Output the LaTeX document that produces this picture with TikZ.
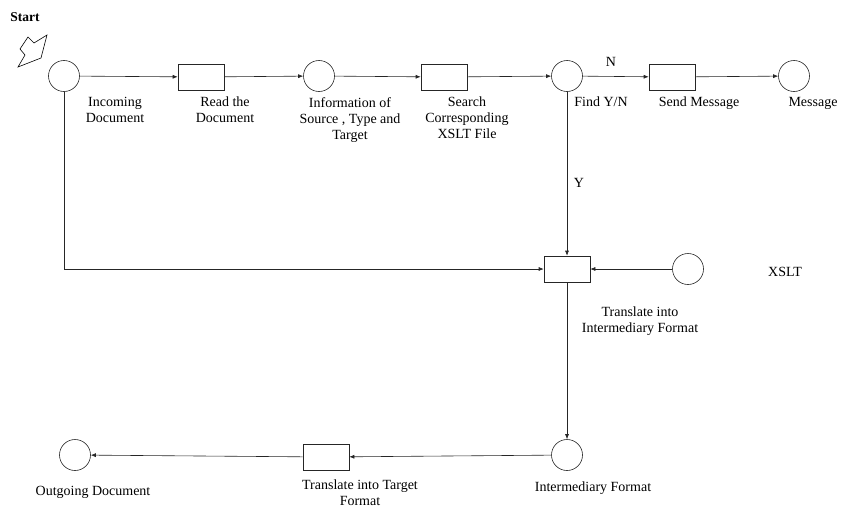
\documentclass[tikz,border=0pt]{standalone}
\usepackage{fontspec}
\setmainfont{Liberation Serif}
\usetikzlibrary{arrows.meta,positioning,calc}
\tikzset{
  >={Latex[length=5pt,width=4pt]},
  state/.style={circle,draw=black!85,line width=0.6pt,minimum size=31pt,inner sep=0pt},
  task/.style={rectangle,draw=black!85,line width=0.6pt,minimum width=46pt,minimum height=26pt,inner sep=0pt},
  lbl/.style={font=\fontsize{14}{16}\selectfont,align=center,inner sep=0pt},
  flow/.style={->,line width=0.6pt,draw=black!85},
}
\begin{document}
\begin{tikzpicture}[x=1pt,y=-1pt]
  \useasboundingbox (0,0) rectangle (848,514);
  % start marker
  \node[lbl,font=\fontsize{13.5}{16}\selectfont\bfseries] (start) at (25,17) {Start};
  \draw[line width=0.6pt] (20,49) -- (28,37) -- (34,43) -- (47,35) -- (41,58) -- (18,67) -- (25,55) -- cycle;
  % top row
  \node[state] (inc) at (64,76) {};
  \node[task] (read) at (201,77) {};
  \node[state] (info) at (319,76) {};
  \node[task] (search) at (444,77) {};
  \node[state] (find) at (567,76) {};
  \node[task] (send) at (672,77) {};
  \node[state] (msg) at (794,76) {};
  % middle row
  \node[task] (trans) at (567,269) {};
  \node[state] (xslt) at (688,269) {};
  % bottom row
  \node[state] (inter) at (567,455) {};
  \node[task] (target) at (326,457) {};
  \node[state] (out) at (75,455) {};
  % labels
  \node[lbl,anchor=north] (incl) at (115,97) {Incoming\\Document};
  \node[lbl,anchor=north] (readl) at (225,97) {Read the\\Document};
  \node[lbl,anchor=north] (infol) at (350,97) {Information of\\Source , Type and\\Target};
  \node[lbl,anchor=north] (searchl) at (467,97) {Search\\Corresponding\\XSLT File};
  \node[lbl,anchor=north] (findl) at (601,97) {Find Y/N};
  \node[lbl,anchor=north] (sendl) at (699,97) {Send Message};
  \node[lbl,anchor=north] (msgl) at (813,97) {Message};
  \node[lbl] (nl) at (611,62) {N};
  \node[lbl] (yl) at (579,183) {Y};
  \node[lbl] (xsltl) at (785,272) {XSLT};
  \node[lbl,anchor=north] (transl) at (640,307) {Translate into\\Intermediary Format};
  \node[lbl,anchor=north] (interl) at (593,482) {Intermediary Format};
  \node[lbl,anchor=north] (targetl) at (360,480) {Translate into Target\\Format};
  \node[lbl,anchor=north] (outl) at (93,486) {Outgoing Document};
  % connectors
  \draw[flow] (inc) -- (read);
  \draw[flow] (read) -- (info);
  \draw[flow] (info) -- (search);
  \draw[flow] (search) -- (find);
  \draw[flow] (find) -- (send);
  \draw[flow] (send) -- (msg);
  \draw[flow] (find) -- (trans);
  \draw[flow] (inc.south) |- (trans.west);
  \draw[flow] (xslt) -- (trans);
  \draw[flow] (trans) -- (inter);
  \draw[flow] (inter) -- (target);
  \draw[flow] (target) -- (out);
\end{tikzpicture}
\end{document}
